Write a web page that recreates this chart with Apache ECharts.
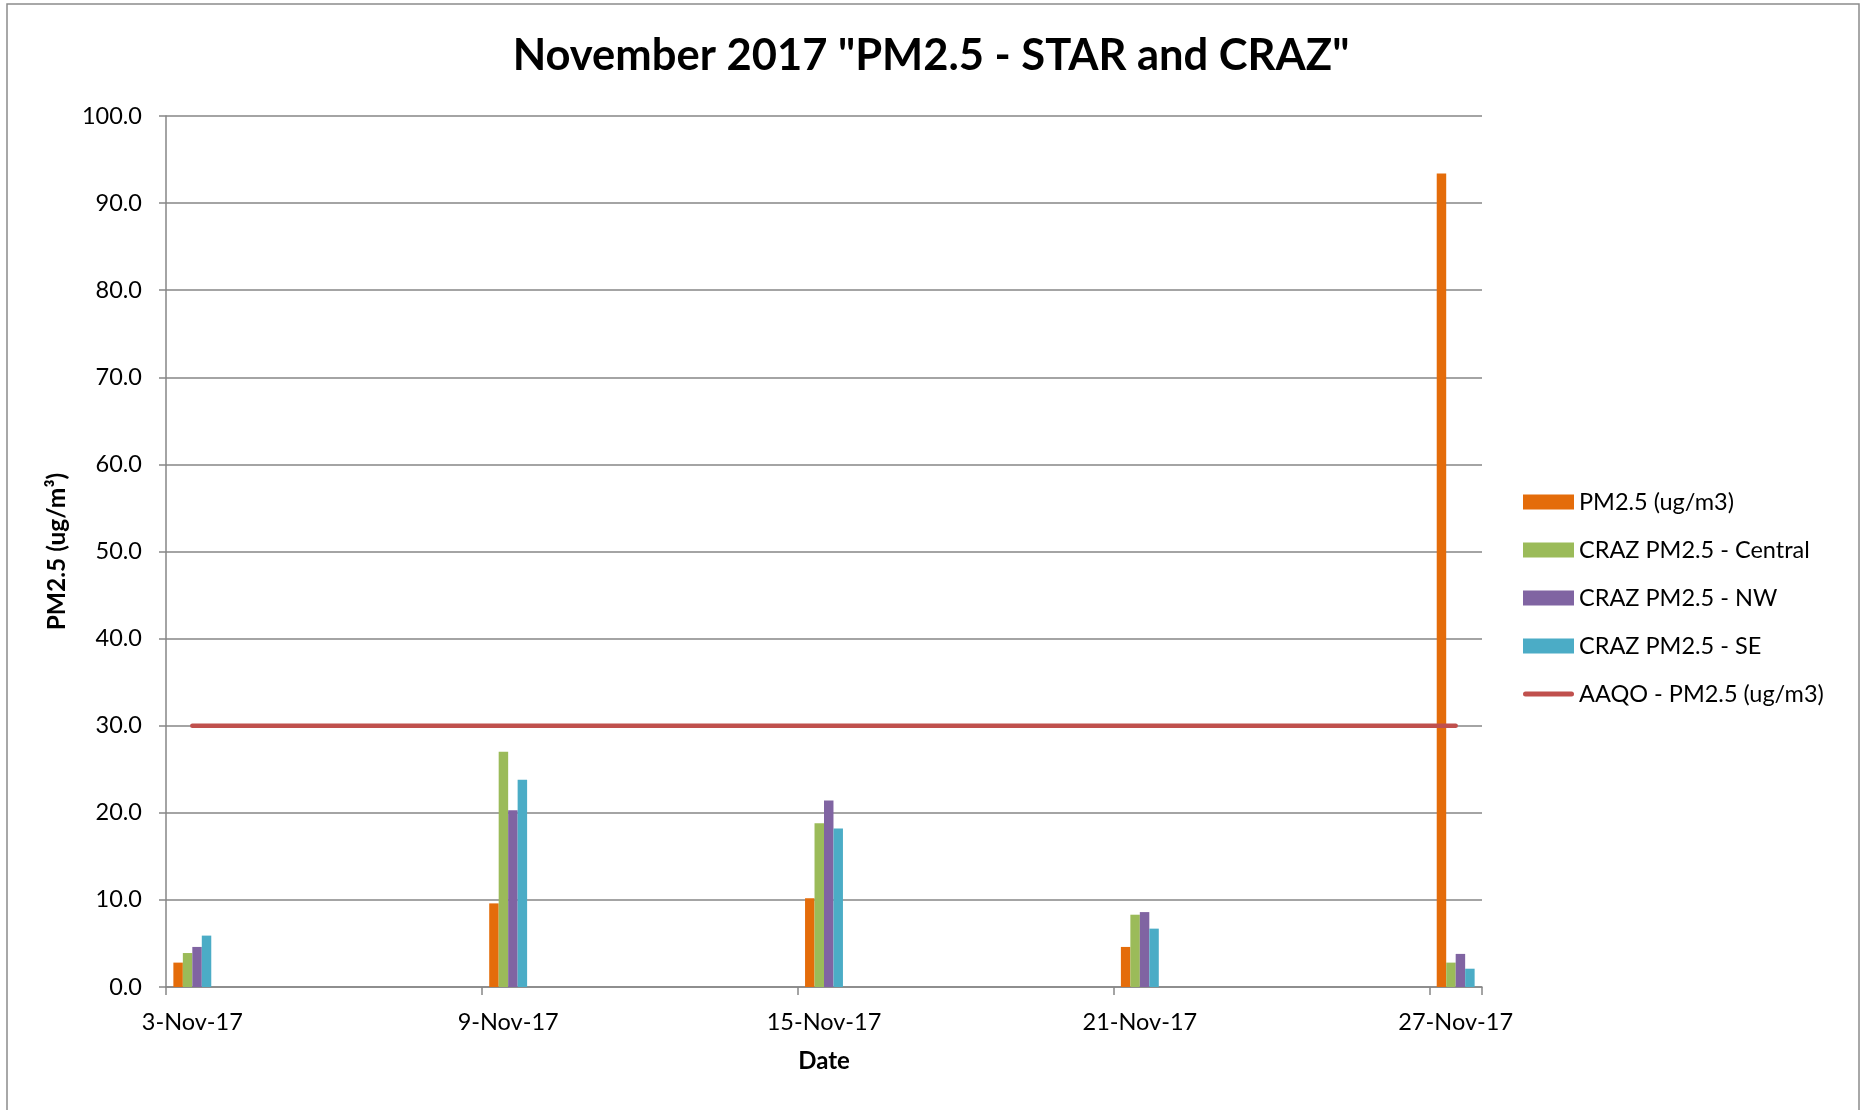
<!DOCTYPE html>
<html>
<head>
<meta charset="utf-8">
<title>PM2.5 - STAR and CRAZ</title>
<script src="https://cdn.jsdelivr.net/npm/echarts@6/dist/echarts.min.js"></script>
<style>
    html, body { margin:0; padding:0; background:#fff; }
    #psBar { width:1862px; height:1110px; }
</style>
</head>
<body>
<div id="psBar"></div>
<script>
    // sample days (the date axis runs 3-Nov-17 .. 27-Nov-17, one band per day)
    var sampleDates = ['3-Nov-17', '9-Nov-17', '15-Nov-17', '21-Nov-17', '27-Nov-17'];
    var pm25     = [2.8, 9.6, 10.2, 4.6, 93.4];
    var crazCent = [3.9, 27.0, 18.8, 8.3, 2.8];
    var crazNW   = [4.6, 20.3, 21.4, 8.6, 3.8];
    var crazSE   = [5.9, 23.8, 18.2, 6.7, 2.1];
    var aaqo     = [30, 30, 30, 30, 30];
    var yTicks   = [0, 10, 20, 30, 40, 50, 60, 70, 80, 90, 100];

    var days = [];
    for (var d = 3; d <= 27; d++) { days.push(d + '-Nov-17'); }

    function spread(vals) {
        var out = days.map(function () { return null; });
        sampleDates.forEach(function (s, i) { out[days.indexOf(s)] = vals[i]; });
        return out;
    }

    var font = 'Lato';
    // thick line with round ends for the AAQO legend entry (M points pad the box)
    var lineIcon = 'path://M0,0 M102,30 M5,10 L97,10 A5,5 0 0 1 97,20 L5,20 A5,5 0 0 1 5,10 Z';
    var chart = echarts.init(document.getElementById('psBar'));

    var option = {
        animation: false,
        textStyle: { fontFamily: font, color: '#000' },
        title: {
            text: 'November 2017 "PM2.5 - STAR and CRAZ"',
            left: 'center',
            top: 29,
            textStyle: { fontFamily: font, fontSize: 43.5, fontWeight: 'bold', color: '#000' }
        },
        grid: { left: 166, right: 380, top: 116, bottom: 123 },
        legend: {
            orient: 'vertical',
            left: 1518,
            top: 485,
            itemWidth: 51,
            itemHeight: 15,
            itemGap: 24,
            textStyle: { fontFamily: font, fontSize: 23.5, color: '#000', lineHeight: 24 },
            data: [
                { name: 'PM2.5 (ug/m3)', icon: 'rect' },
                { name: 'CRAZ PM2.5 - Central', icon: 'rect' },
                { name: 'CRAZ PM2.5 - NW', icon: 'rect' },
                { name: 'CRAZ PM2.5 - SE', icon: 'rect' },
                { name: 'AAQO - PM2.5 (ug/m3)', icon: lineIcon }
            ]
        },
        xAxis: {
            type: 'category',
            data: days,
            boundaryGap: true,
            name: 'Date',
            nameLocation: 'middle',
            nameGap: 62,
            nameTextStyle: { fontFamily: font, fontSize: 24, fontWeight: 'bold', color: '#000' },
            axisLine: { lineStyle: { color: '#868686', width: 1.5 } },
            axisTick: { show: true, interval: 5, length: 8, lineStyle: { color: '#868686', width: 1.5 } },
            axisLabel: { interval: 5, margin: 23, fontFamily: font, fontSize: 23.5, color: '#000' },
            splitLine: { show: false }
        },
        yAxis: {
            type: 'value',
            min: yTicks[0],
            max: yTicks[yTicks.length - 1],
            interval: 10,
            name: 'PM2.5 (ug/m³)',
            nameLocation: 'middle',
            nameRotate: 90,
            nameGap: 96,
            nameTextStyle: { fontFamily: font, fontSize: 24.5, fontWeight: 'bold', color: '#000' },
            axisLine: { show: true, lineStyle: { color: '#868686', width: 1.5 } },
            axisTick: { show: true, length: 7, lineStyle: { color: '#868686', width: 1.5 } },
            axisLabel: {
                margin: 24, fontFamily: font, fontSize: 23.5, color: '#000',
                formatter: function (v) { return v.toFixed(1); }
            },
            splitLine: { lineStyle: { color: '#868686', width: 1.5 } }
        },
        series: [
            { name: 'PM2.5 (ug/m3)', type: 'bar', data: spread(pm25), barGap: '0%', barCategoryGap: '28%',
              itemStyle: { color: '#E46C0A' } },
            { name: 'CRAZ PM2.5 - Central', type: 'bar', data: spread(crazCent),
              itemStyle: { color: '#9BBB59' } },
            { name: 'CRAZ PM2.5 - NW', type: 'bar', data: spread(crazNW),
              itemStyle: { color: '#8064A2' } },
            { name: 'CRAZ PM2.5 - SE', type: 'bar', data: spread(crazSE),
              itemStyle: { color: '#4BACC6' } },
            { name: 'AAQO - PM2.5 (ug/m3)', type: 'line', data: spread(aaqo), connectNulls: true,
              symbol: 'none', z: 5,
              lineStyle: { color: '#C0504D', width: 4.5, cap: 'round' },
              itemStyle: { color: '#C0504D' } }
        ],
        graphic: [{
            type: 'rect',
            shape: { x: 7, y: 4, width: 1852, height: 1120 },
            style: { fill: null, stroke: '#8c8c8c', lineWidth: 1.5 },
            silent: true
        }]
    };

    chart.setOption(option);
</script>
</body>
</html>
